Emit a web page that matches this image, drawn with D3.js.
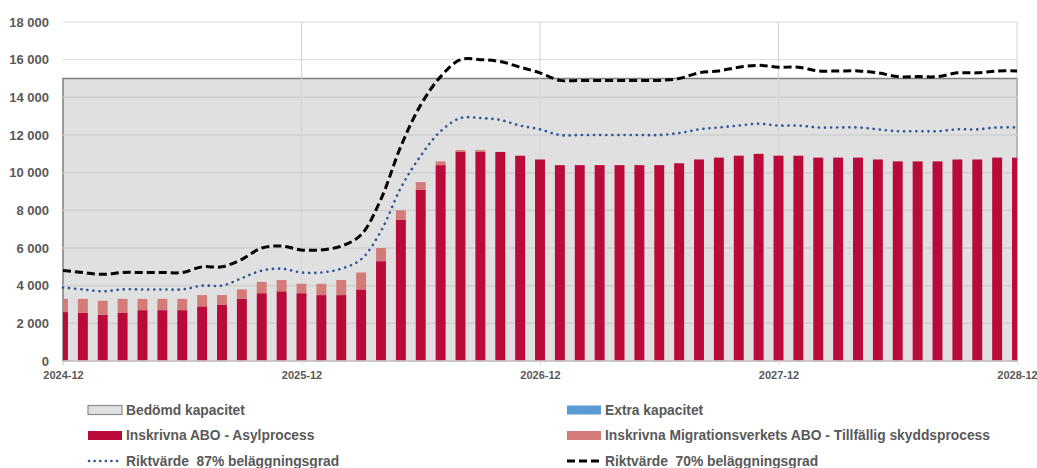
<!DOCTYPE html>
<html>
<head>
<meta charset="utf-8">
<script src="https://cdn.jsdelivr.net/npm/d3@7"></script>
<style>
  body { margin: 0; background: #fff; }
  svg { font-family: "Liberation Sans", Arial, sans-serif; }
  .legend-text { white-space: pre; }
</style>
</head>
<body>
<div id="chart"></div>
<script>
// data ----------------------------------------------------------------------------------------
const months = [];
for (let y = 2024; y <= 2028; y++) {
  for (let m = 1; m <= 12; m++) {
    if ((y === 2024 && m < 12)) continue;
    if (y === 2028 && m === 12) { months.push("2028-12"); break; }
    months.push(`${y}-${String(m).padStart(2, "0")}`);
  }
}

const asyl = [2600, 2550, 2450, 2550, 2700, 2700, 2700, 2900, 3000, 3300,
  3600, 3700, 3600, 3500, 3500, 3800, 5300, 7500, 9100, 10400,
  11100, 11100, 11100, 10900, 10700, 10400, 10400, 10400, 10400, 10400,
  10400, 10500, 10700, 10800, 10900, 11000, 10900, 10900, 10800, 10800,
  10800, 10700, 10600, 10600, 10600, 10700, 10700, 10800, 10800];

const tillfallig = [700, 750, 750, 750, 600, 600, 600, 600, 500, 500,
  600, 600, 500, 600, 800, 900, 700, 500, 400, 200,
  100, 100, 0, 0, 0, 0, 0, 0, 0, 0,
  0, 0, 0, 0, 0, 0, 0, 0, 0, 0,
  0, 0, 0, 0, 0, 0, 0, 0, 0];

const extra = months.map(() => 0);

const rikt87 = [3900, 3800, 3700, 3800, 3800, 3800, 3800, 4000, 4000, 4400,
  4800, 4900, 4700, 4700, 4900, 5400, 6900, 9200, 10900, 12200,
  12900, 12900, 12800, 12500, 12300, 12000, 12000, 12000, 12000, 12000,
  12000, 12100, 12300, 12400, 12500, 12600, 12500, 12500, 12400, 12400,
  12400, 12300, 12200, 12200, 12200, 12300, 12300, 12400, 12400];

const rikt70 = [4800, 4700, 4600, 4700, 4700, 4700, 4700, 5000, 5000, 5400,
  6000, 6100, 5900, 5900, 6100, 6700, 8600, 11400, 13600, 15100,
  16000, 16000, 15900, 15600, 15300, 14900, 14900, 14900, 14900, 14900,
  14900, 15000, 15300, 15400, 15600, 15700, 15600, 15600, 15400, 15400,
  15400, 15300, 15100, 15100, 15100, 15300, 15300, 15400, 15400];

const kapacitet = 15000;
const yTicks = [0, 2000, 4000, 6000, 8000, 10000, 12000, 14000, 16000, 18000];
const xTickLabels = ["2024-12", "2025-12", "2026-12", "2027-12", "2028-12"];

const legendItems = [
  { label: "Bedömd kapacitet", type: "area" },
  { label: "Extra kapacitet", type: "extra" },
  { label: "Inskrivna ABO - Asylprocess", type: "asyl" },
  { label: "Inskrivna Migrationsverkets ABO - Tillfällig skyddsprocess", type: "tsp" },
  { label: "Riktvärde  87% beläggningsgrad", type: "dot" },
  { label: "Riktvärde  70% beläggningsgrad", type: "dash" }
];

// chart ---------------------------------------------------------------------------------------
const width = 1037, height = 468;
const margin = { top: 22, right: 20, bottom: 107, left: 63 };
const textColor = "#595959";
const colAsyl = "#ba0a3a";
const colTsp = "#d47b7a";
const colExtra = "#5b9bd5";
const colBlue = "#2f5597";

const svg = d3.select("#chart").append("svg")
  .attr("width", width).attr("height", height);

const x = d3.scalePoint()
  .domain(months)
  .range([margin.left, width - margin.right]);

const y = d3.scaleLinear()
  .domain([0, 18000])
  .range([height - margin.bottom, margin.top]);

const step = x.step();
const barW = step * 0.5;

svg.append("defs").append("clipPath").attr("id", "plotclip")
  .append("rect")
  .attr("x", margin.left).attr("y", margin.top)
  .attr("width", width - margin.right - margin.left)
  .attr("height", height - margin.bottom - margin.top);

// horizontal gridlines
svg.append("g")
  .selectAll("line")
  .data(yTicks)
  .join("line")
  .attr("x1", margin.left).attr("x2", width - margin.right)
  .attr("y1", d => y(d)).attr("y2", d => y(d))
  .attr("stroke", "#d9d9d9").attr("stroke-width", 1);

// bedömd kapacitet area
svg.append("rect")
  .attr("x", margin.left)
  .attr("y", y(kapacitet))
  .attr("width", x(months[months.length - 1]) - margin.left)
  .attr("height", y(0) - y(kapacitet))
  .attr("fill", "#e0e0e0")
  .attr("stroke", "#7f7f7f")
  .attr("stroke-width", 1.5);

// gridlines over the area
svg.append("g")
  .selectAll("line")
  .data(yTicks.filter(d => d > 0 && d < kapacitet))
  .join("line")
  .attr("x1", margin.left).attr("x2", width - margin.right)
  .attr("y1", d => y(d)).attr("y2", d => y(d))
  .attr("stroke", "#d0d0d0").attr("stroke-width", 1.5);

// vertical gridlines at yearly ticks
svg.append("g")
  .selectAll("line")
  .data(xTickLabels.slice(1))
  .join("line")
  .attr("x1", d => x(d)).attr("x2", d => x(d))
  .attr("y1", margin.top).attr("y2", y(0))
  .attr("stroke", "#d4d4d4").attr("stroke-width", 1);

// stacked bars
const stackData = months.map((m, i) => ({ month: m, asyl: asyl[i], tsp: tillfallig[i], extra: extra[i] }));
const series = d3.stack().keys(["asyl", "tsp", "extra"])(stackData);
const barColor = { asyl: colAsyl, tsp: colTsp, extra: colExtra };

svg.append("g")
  .attr("clip-path", "url(#plotclip)")
  .selectAll("g")
  .data(series)
  .join("g")
  .attr("fill", d => barColor[d.key])
  .selectAll("rect")
  .data(d => d)
  .join("rect")
  .attr("x", d => x(d.data.month) - barW / 2)
  .attr("width", barW)
  .attr("y", d => y(d[1]))
  .attr("height", d => y(d[0]) - y(d[1]));

// x axis line
svg.append("line")
  .attr("x1", margin.left).attr("x2", width - margin.right)
  .attr("y1", y(0)).attr("y2", y(0))
  .attr("stroke", "#d9d9d9").attr("stroke-width", 1.5);

// riktvärde lines
const line = d3.line()
  .x((d, i) => x(months[i]))
  .y(d => y(d))
  .curve(d3.curveCatmullRom.alpha(0.5));

svg.append("path")
  .datum(rikt87)
  .attr("d", line)
  .attr("fill", "none")
  .attr("stroke", colBlue)
  .attr("stroke-width", 2.6)
  .attr("stroke-linecap", "round")
  .attr("stroke-dasharray", "0.1 6");

svg.append("path")
  .datum(rikt70)
  .attr("d", line)
  .attr("fill", "none")
  .attr("stroke", "#000")
  .attr("stroke-width", 3)
  .attr("stroke-dasharray", "8 4");

// y axis labels
svg.append("g")
  .attr("transform", `translate(${margin.left},0)`)
  .call(d3.axisLeft(y).tickValues(yTicks).tickSize(0).tickPadding(14)
    .tickFormat(d => d3.format(",")(d).replace(/,/g, " ")))
  .call(g => g.select(".domain").remove())
  .selectAll("text")
  .attr("fill", textColor)
  .attr("font-size", 13)
  .attr("font-weight", "bold")
  .attr("font-family", "Liberation Sans, Arial, sans-serif");

// x axis
svg.append("g")
  .attr("transform", `translate(0,${y(0)})`)
  .call(d3.axisBottom(x).tickValues(xTickLabels).tickSize(4).tickPadding(6))
  .call(g => g.select(".domain").remove())
  .call(g => g.selectAll("line").attr("stroke", "#d9d9d9"))
  .selectAll("text")
  .attr("fill", textColor)
  .attr("font-size", 11)
  .attr("font-weight", "bold")
  .attr("font-family", "Liberation Sans, Arial, sans-serif");

// legend
const legend = svg.append("g")
  .selectAll("g")
  .data(legendItems)
  .join("g")
  .attr("transform", (d, i) => `translate(${i % 2 === 0 ? 88 : 567},${410 + Math.floor(i / 2) * 25.5})`);

legend.each(function (d) {
  const g = d3.select(this);
  if (d.type === "dot") {
    g.append("line").attr("x1", 1).attr("x2", 34).attr("y1", 0).attr("y2", 0)
      .attr("stroke", colBlue).attr("stroke-width", 2.6)
      .attr("stroke-linecap", "round").attr("stroke-dasharray", "0.1 5.5");
  } else if (d.type === "dash") {
    g.append("line").attr("x1", 0).attr("x2", 34).attr("y1", 0).attr("y2", 0)
      .attr("stroke", "#000").attr("stroke-width", 3).attr("stroke-dasharray", "8 4");
  } else {
    const fill = { area: "#e0e0e0", extra: colExtra, asyl: colAsyl, tsp: colTsp }[d.type];
    g.append("rect").attr("x", 0).attr("y", -4.5).attr("width", 34).attr("height", 9)
      .attr("fill", fill)
      .attr("stroke", d.type === "area" ? "#8c8c8c" : "none")
      .attr("stroke-width", 1.2);
  }
  g.append("text")
    .attr("class", "legend-text")
    .attr("x", 38)
    .attr("y", 0)
    .attr("dy", "0.36em")
    .attr("fill", textColor)
    .attr("font-size", 13.8)
    .attr("font-weight", "bold")
    .text(d.label);
});
</script>
</body>
</html>
